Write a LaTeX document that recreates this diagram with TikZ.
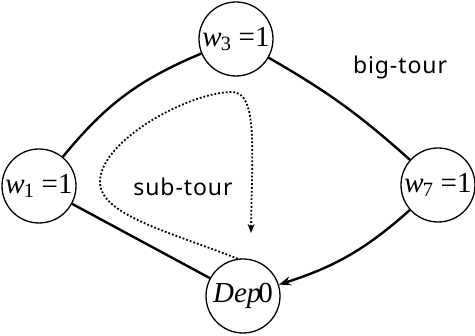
\documentclass[tikz,border=0pt]{standalone}
\usepackage{fontspec}
\setmainfont{Liberation Serif}
\newfontfamily\tourfont[LetterSpace=4]{Noto Sans}
\usetikzlibrary{arrows.meta}

\begin{document}
\begin{tikzpicture}[x=1pt,y=-1pt,
    city/.style={draw,circle,line width=1.3pt,minimum size=74pt,inner sep=0pt,font=\fontsize{29}{32}\selectfont},
    tour/.style={line width=2.4pt},
    lbl/.style={font=\tourfont\fontsize{23}{26}\selectfont}]
  \useasboundingbox (0,0) rectangle (475,336);
  \node[city] (w3) at (236,39) {\textit{w}\kern-1pt\textsubscript{3} =1};
  \node[city] (w1) at (39,186) {\textit{w}\kern-1pt\textsubscript{1} =1};
  \node[city] (w7) at (438,185) {\textit{w}\kern-1pt\textsubscript{7} =1};
  \node[city] (dep) at (243,296) {\textit{Dep}\kern-3pt0};
  % big tour
  \draw[tour] (w1) to[bend left=14] (w3);
  \draw[tour] (w3) to[bend left=6] (w7);
  \draw[tour,-{Stealth[length=12pt,width=9pt]}] (w7) to[bend left=12] (dep);
  \draw[tour] (dep) -- (w1);
  \node[lbl] (big) at (400,68) {big-tour};
  % sub tour
  \coordinate (subend) at (251,233);
  \draw[dotted,line width=1.8pt,-{Stealth[length=9pt,width=7pt]}] (dep.98)
    .. controls (170,232) and (100,215) .. (100,182)
    .. controls (100,140) and (190,92) .. (232,92)
    .. controls (258,92) and (252,150) .. (subend);
  \node[lbl] (sub) at (183,187) {sub-tour};
\end{tikzpicture}
\end{document}
